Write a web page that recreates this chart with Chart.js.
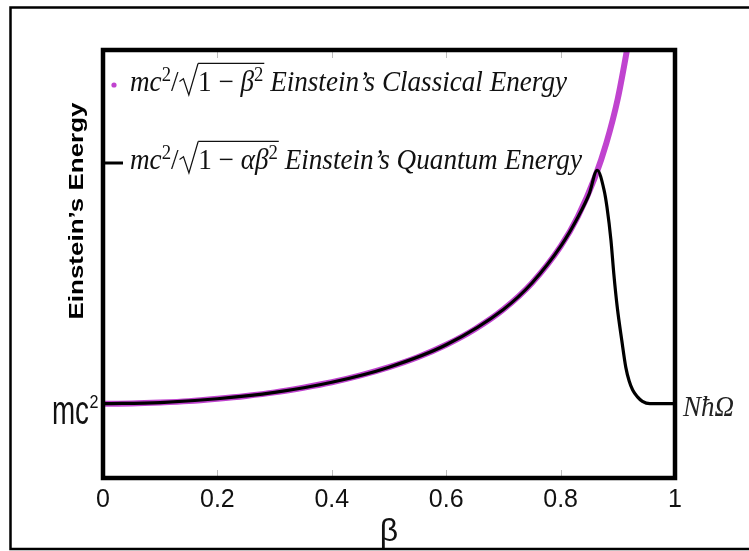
<!DOCTYPE html>
<html>
<head>
<meta charset="utf-8">
<script src="https://cdn.jsdelivr.net/npm/chart.js@4.4.1/dist/chart.umd.min.js"></script>
<style>
  html, body { margin: 0; padding: 0; background: #fff; }
  #wrap { width: 749px; height: 551px; }
</style>
</head>
<body>
<div id="wrap"><canvas id="c" width="749" height="551"></canvas></div>
<script>
// ---- data ----
const xTickLabels = ['0', '0.2', '0.4', '0.6', '0.8', '1'];
const xTickValues = [0, 0.2, 0.4, 0.6, 0.8, 1];
const yTickValues = [1];
const yTickLabels = ['mc²'];
const xAxisTitle = 'β';
const yAxisTitle = 'Einstein\u2019s Energy';
const rightLabel = 'NħΩ';

const classicalBeta   = [0, 0.05, 0.1, 0.15, 0.2, 0.25, 0.3, 0.35, 0.4, 0.45, 0.5, 0.55, 0.6, 0.65, 0.7, 0.75, 0.8, 0.83, 0.86, 0.88, 0.9, 0.92];
const classicalEnergy = [1.000, 1.001, 1.005, 1.011, 1.021, 1.033, 1.048, 1.068, 1.091, 1.120, 1.155, 1.197, 1.250, 1.316, 1.400, 1.512, 1.667, 1.793, 1.960, 2.105, 2.294, 2.552];

const quantumBeta   = [0, 0.1, 0.2, 0.3, 0.4, 0.5, 0.6, 0.7, 0.75, 0.8, 0.83, 0.85, 0.864, 0.876, 0.881, 0.888, 0.893, 0.899, 0.907, 0.914, 0.920, 0.926, 0.934, 0.943, 0.956, 1.0];
const quantumEnergy = [1.000, 1.005, 1.021, 1.048, 1.091, 1.155, 1.250, 1.400, 1.512, 1.667, 1.790, 1.890, 1.990, 1.906, 1.835, 1.694, 1.552, 1.410, 1.268, 1.154, 1.095, 1.058, 1.030, 1.010, 1.000, 1.000];

const seriesLabels = ['mc²/√(1 − β²) Einstein\u2019s Classical Energy', 'mc²/√(1 − αβ²) Einstein\u2019s Quantum Energy'];

// ---- styles ----
const PURPLE = '#c043cf';
const BLACK = '#000000';

function pts(xs, ys) { return xs.map((x, i) => ({ x: x, y: ys[i] })); }

function drawRich(ctx, parts, x, base, targetW, size) {
  const fontFor = p => (p.italic ? 'italic ' : '') + (p.sup ? Math.round(size * 0.68) : size) + 'px "Liberation Serif", "DejaVu Serif", serif';
  const radW = size * 0.72;
  let w = 0;
  parts.forEach(p => {
    if (p.rad) { w += radW; return; }
    ctx.font = fontFor(p);
    p.w = ctx.measureText(p.t).width;
    w += p.w;
  });
  const sx = targetW / w;
  ctx.save();
  ctx.translate(x, base);
  ctx.scale(sx, 1);
  ctx.fillStyle = '#111';
  ctx.strokeStyle = '#111';
  ctx.textBaseline = 'alphabetic';
  ctx.textAlign = 'left';
  let cx = 0, overStart = 0;
  const overY = -size * 0.95;
  parts.forEach(p => {
    if (p.rad) {
      ctx.lineWidth = 1.3;
      ctx.beginPath();
      ctx.moveTo(cx + 1, -size * 0.33);
      ctx.lineTo(cx + size * 0.18, -size * 0.42);
      ctx.lineTo(cx + size * 0.38, size * 0.14);
      ctx.lineTo(cx + radW, overY);
      ctx.stroke();
      overStart = cx + radW;
      cx += radW;
      return;
    }
    ctx.font = fontFor(p);
    ctx.fillText(p.t, cx, p.sup ? -size * 0.36 : 0);
    cx += p.w;
    if (p.endOver) {
      ctx.lineWidth = 1.3;
      ctx.beginPath();
      ctx.moveTo(overStart, overY);
      ctx.lineTo(cx + 1, overY);
      ctx.stroke();
    }
  });
  ctx.restore();
}

const decorPlugin = {
  id: 'decor',
  afterDatasetsDraw(chart) {
    const ctx = chart.ctx;
    const a = chart.chartArea;
    const xs = chart.scales.x;
    const ys = chart.scales.y;
    ctx.save();
    // small inner ticks
    ctx.strokeStyle = '#bdbdbd';
    ctx.lineWidth = 1;
    xTickValues.slice(1, -1).forEach(v => {
      const px = Math.round(xs.getPixelForValue(v)) + 0.5;
      ctx.beginPath();
      ctx.moveTo(px, a.top); ctx.lineTo(px, a.top + 8);
      ctx.moveTo(px, a.bottom); ctx.lineTo(px, a.bottom - 8);
      ctx.stroke();
    });
    // plot box
    ctx.strokeStyle = '#000';
    ctx.lineWidth = 4.5;
    ctx.strokeRect(a.left, a.top, a.right - a.left, a.bottom - a.top);
    // outer frame
    ctx.lineWidth = 2.5;
    ctx.beginPath();
    ctx.moveTo(760, 7.5);
    ctx.lineTo(10.5, 7.5);
    ctx.lineTo(10.5, 549);
    ctx.lineTo(760, 549);
    ctx.stroke();

    // y tick label (condensed "mc²"), positioned by the y scale
    yTickValues.forEach((v, i) => {
      const py = ys.getPixelForValue(v);
      const lab = yTickLabels[i];
      const base = lab.replace('²', '');
      ctx.save();
      ctx.fillStyle = '#111';
      ctx.textBaseline = 'alphabetic';
      ctx.textAlign = 'left';
      ctx.font = '40px "Liberation Sans", Arial, sans-serif';
      const bw = ctx.measureText(base).width;
      ctx.save();
      ctx.translate(52, py + 20);
      ctx.scale(37 / bw, 1);
      ctx.fillText(base, 0, 0);
      ctx.restore();
      if (lab.indexOf('²') >= 0) {
        ctx.font = '19px "Liberation Sans", Arial, sans-serif';
        ctx.save();
        ctx.translate(89.5, py + 4);
        ctx.scale(0.85, 1);
        ctx.fillText('2', 0, 0);
        ctx.restore();
      }
      ctx.restore();
    });

    // y axis title
    ctx.save();
    ctx.translate(77, 211);
    ctx.rotate(-Math.PI / 2);
    ctx.font = 'bold 20px "Liberation Sans", Arial, sans-serif';
    const tw = ctx.measureText(yAxisTitle).width;
    ctx.scale(217 / tw, 1);
    ctx.fillStyle = '#000';
    ctx.textAlign = 'center';
    ctx.textBaseline = 'middle';
    ctx.fillText(yAxisTitle, 0, 0);
    ctx.restore();

    // legend markers
    ctx.fillStyle = PURPLE;
    ctx.beginPath();
    ctx.arc(114, 85, 2.6, 0, Math.PI * 2);
    ctx.fill();
    ctx.strokeStyle = '#000';
    ctx.lineWidth = 3;
    ctx.beginPath();
    ctx.moveTo(103, 163); ctx.lineTo(123, 163);
    ctx.stroke();

    // legend texts (rich, math-like)
    drawRich(ctx, [
      { t: 'mc', italic: true }, { t: '2', sup: true }, { t: '/' }, { rad: true },
      { t: '1 − ' }, { t: 'β', italic: true }, { t: '2', sup: true, endOver: true },
      { t: ' Einstein\u2019s Classical Energy', italic: true }
    ], 130, 91, 437, 29);
    drawRich(ctx, [
      { t: 'mc', italic: true }, { t: '2', sup: true }, { t: '/' }, { rad: true },
      { t: '1 − ' }, { t: 'αβ', italic: true }, { t: '2', sup: true, endOver: true },
      { t: ' Einstein\u2019s Quantum Energy', italic: true }
    ], 130, 169, 452, 29);

    // right-side label
    ctx.save();
    ctx.font = 'italic 30px "Liberation Serif", "DejaVu Serif", serif';
    const rw = ctx.measureText(rightLabel).width;
    ctx.translate(683, 416);
    ctx.scale(51 / rw, 1);
    ctx.fillStyle = '#222';
    ctx.textAlign = 'left';
    ctx.textBaseline = 'alphabetic';
    ctx.fillText(rightLabel, 0, 0);
    ctx.restore();

    ctx.restore();
  }
};

new Chart(document.getElementById('c'), {
  type: 'line',
  data: {
    datasets: [
      {
        label: seriesLabels[1],
        data: pts(quantumBeta, quantumEnergy),
        borderColor: BLACK,
        backgroundColor: BLACK,
        borderWidth: 3.2,
        pointRadius: 0,
        cubicInterpolationMode: 'monotone',
        order: 0
      },
      {
        label: seriesLabels[0],
        data: pts(classicalBeta, classicalEnergy),
        borderColor: PURPLE,
        backgroundColor: PURPLE,
        borderWidth: 6,
        pointRadius: 0,
        cubicInterpolationMode: 'monotone',
        order: 1
      }
    ]
  },
  options: {
    responsive: false,
    animation: false,
    events: [],
    layout: { padding: { top: 50, right: 74, left: 0, bottom: 0 } },
    plugins: {
      legend: { display: false },
      tooltip: { enabled: false },
      title: { display: false }
    },
    scales: {
      x: {
        type: 'linear',
        min: 0, max: 1,
        afterFit(scale) { scale.height = 73; },
        afterBuildTicks(scale) { scale.ticks = xTickValues.map(v => ({ value: v })); },
        grid: { display: false, drawTicks: false },
        border: { display: false },
        ticks: {
          padding: 7,
          color: '#111',
          maxRotation: 0,
          autoSkip: false,
          font: { family: '"Liberation Sans", Arial, sans-serif', size: 25 },
          callback(v, i) { return xTickLabels[i]; }
        },
        title: {
          display: true,
          text: xAxisTitle,
          color: '#111',
          padding: { top: 0, bottom: 0 },
          font: { family: '"Liberation Sans", Arial, sans-serif', size: 32 }
        }
      },
      y: {
        type: 'linear',
        min: 0.685, max: 2.5,
        afterFit(scale) { scale.width = 103; },
        afterBuildTicks(scale) { scale.ticks = yTickValues.map(v => ({ value: v })); },
        grid: { display: false, drawTicks: false },
        border: { display: false },
        ticks: { display: false }
      }
    }
  },
  plugins: [decorPlugin]
});
</script>
</body>
</html>
